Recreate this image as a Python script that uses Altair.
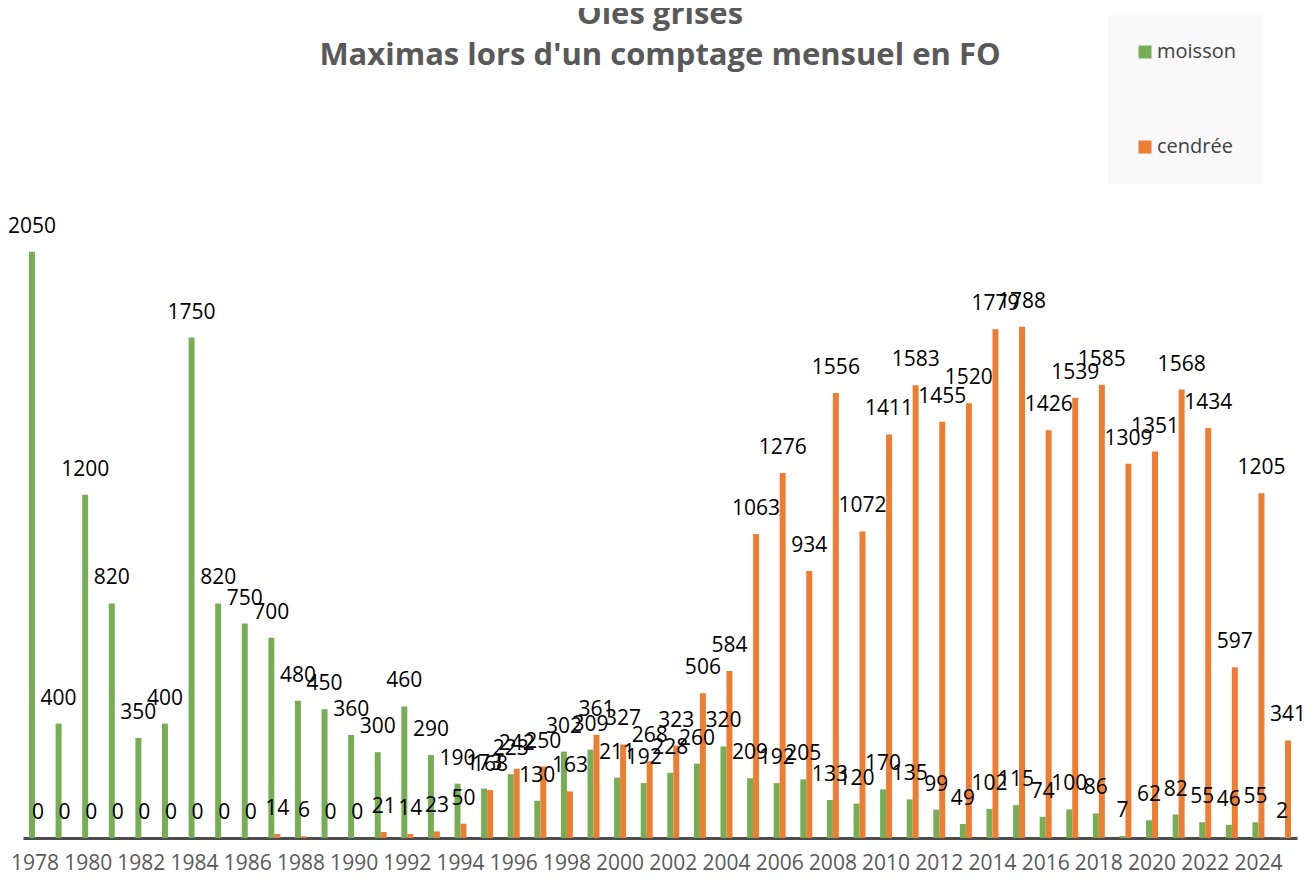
import altair as alt
import pandas as pd

years = list(range(1978, 2026))
moisson = [2050, 400, 1200, 820, 350, 400, 1750, 820, 750, 700,
           480, 450, 360, 300, 460, 290, 190, 173, 223, 130,
           302, 309, 211, 192, 228, 260, 320, 209, 192, 205,
           133, 120, 170, 135, 99, 49, 102, 115, 74, 100,
           86, 7, 62, 82, 55, 46, 55, 2]
cendree = [0, 0, 0, 0, 0, 0, 0, 0, 0, 14,
           6, 0, 0, 21, 14, 23, 50, 168, 242, 250,
           163, 361, 327, 268, 323, 506, 584, 1063, 1276, 934,
           1556, 1072, 1411, 1583, 1455, 1520, 1779, 1788, 1426, 1539,
           1585, 1309, 1351, 1568, 1434, 597, 1205, 341]
series = ["moisson", "cendrée"]
tick_years = list(range(1978, 2025, 2))
title_lines = ["Oies grises", "Maximas lors d'un comptage mensuel en FO"]

rows = []
for i, y in enumerate(years):
    rows.append({"annee": y, "espece": series[0], "valeur": moisson[i]})
    rows.append({"annee": y, "espece": series[1], "valeur": cendree[i]})
df = pd.DataFrame(rows)

x_enc = alt.X("annee:O", title=None,
              scale=alt.Scale(paddingInner=0.55, paddingOuter=0.225),
              axis=alt.Axis(values=tick_years, labelAngle=0, ticks=False,
                            labelFont="Open Sans", labelFontSize=21,
                            labelColor="#595959", labelPadding=14,
                            domainColor="#4d4d4d", domainWidth=3))
xo_enc = alt.XOffset("espece:N", sort=series, scale=alt.Scale(domain=series))
y_enc = alt.Y("valeur:Q", scale=alt.Scale(domain=[0, 2500], nice=False), axis=None)

base = alt.Chart(df).encode(x=x_enc, xOffset=xo_enc, y=y_enc)

bars = base.mark_bar().encode(
    color=alt.Color("espece:N", sort=series,
                    scale=alt.Scale(domain=series, range=["#77AD55", "#ED7D31"]),
                    legend=alt.Legend(title=None, orient="none", legendX=1085, legendY=-108,
                                      direction="vertical", symbolType="square",
                                      symbolSize=169, symbolStrokeWidth=0,
                                      labelFont="Open Sans", labelFontSize=20,
                                      labelColor="#404040", labelOffset=2,
                                      rowPadding=75, padding=27,
                                      fillColor="#f9f9f9"))
)

labels = base.mark_text(font="Open Sans", fontSize=21, color="#000000",
                        baseline="middle", dy=-25).encode(text="valeur:Q")

chart = alt.layer(bars, labels).properties(
    width=1274, height=715,
    autosize=alt.AutoSizeParams(type="none"),
    padding={"left": 15, "top": 115, "right": 10, "bottom": 37},
    title=alt.TitleParams(text=title_lines, font="Open Sans",
                          fontSize=31, fontWeight="bold", color="#595959",
                          anchor="middle", baseline="bottom", lineHeight=41,
                          offset=-88, frame="group")
).configure_view(stroke=None)

chart.save("out.html", embed_options={"renderer": "svg", "actions": False})
